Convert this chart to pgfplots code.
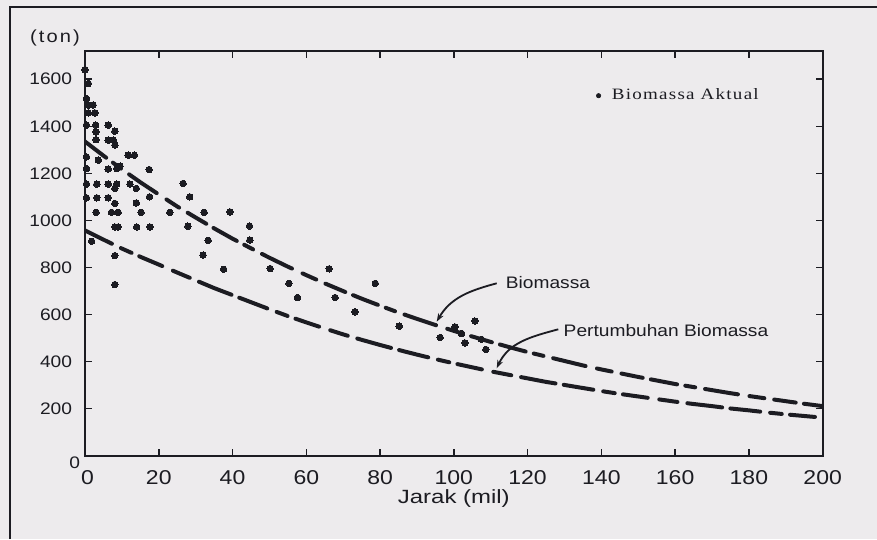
\documentclass[border=0pt]{standalone}
\usepackage{fontspec}
\setmainfont{Liberation Sans}[FakeStretch=1.15]
\newfontfamily\widefont{Liberation Sans}[FakeStretch=1.25]
\newfontfamily\timesfont{Liberation Serif}[FakeStretch=1.2,LetterSpace=8]
\usepackage{pgfplots}
\usepackage{pgfplotstable}
\pgfplotsset{compat=1.18}
\usetikzlibrary{arrows.meta}
\definecolor{bg}{RGB}{237,235,237}
\definecolor{ink}{RGB}{28,28,34}

\pgfplotstableread{
x y
0 1335
5 1275
10 1217
15 1162
20 1110
25 1059
30 1012
35 966
40 922
45 881
50 841
55 803
60 767
65 732
70 699
75 667
80 637
85 608
90 581
95 555
100 530
105 506
110 483
115 461
120 440
125 421
130 402
135 383
140 366
145 350
150 334
155 319
160 304
165 291
170 278
175 265
180 253
185 242
190 231
195 220
200 210
}\biomassa

\pgfplotstableread{
x y
0 957
5 918
10 880
15 845
20 812
25 778
30 745
35 712
40 682
45 652
50 622
55 593
60 566
65 540
70 515
75 492
80 470
85 449
90 429
95 410
100 392
105 375
110 358
115 343
120 328
125 313
130 300
135 287
140 274
145 262
150 251
155 240
160 229
165 219
170 210
175 200
180 192
185 183
190 175
195 168
200 161
}\pertumbuhan

\pgfplotstableread{
x y
0.0 1641
0.9 1582
0.4 1518
0.9 1490
2.2 1490
0.9 1457
2.7 1457
0.4 1405
2.9 1405
6.3 1405
8.1 1379
3.0 1376
3.0 1343
6.3 1341
7.7 1341
8.1 1320
0.4 1270
3.6 1256
11.7 1277
13.4 1277
0.4 1220
6.3 1218
8.6 1220
9.5 1230
17.4 1216
0.4 1154
3.2 1154
6.3 1154
8.6 1154
12.2 1154
8.1 1136
13.9 1136
17.5 1100
26.6 1157
28.4 1100
0.4 1096
3.2 1096
6.3 1096
8.1 1072
13.9 1074
3.0 1034
7.2 1034
9.0 1034
15.2 1034
23.0 1034
32.3 1034
39.3 1036
8.1 972
9.0 972
14.0 972
17.6 972
27.9 975
44.6 976
1.8 911
33.4 915
44.7 916
8.1 850
32.0 852
37.6 792
50.2 795
8.1 727
66.2 794
55.3 732
57.6 672
67.8 672
78.7 732
73.2 611
85.2 550
96.3 502
100.3 547
102.1 519
103.0 479
105.7 572
107.5 494
108.7 451
}\aktual

\begin{document}
\begin{tikzpicture}[x=0.6pt,y=0.6pt]
\useasboundingbox (0,0) rectangle (877,539);
\fill[bg] (0,0) rectangle (877,539);
\draw[ink, line width=1.2pt] (10,0) -- (10,532) -- (877,532);
\begin{axis}[
  at={(51pt,50.1pt)}, anchor=south west,
  scale only axis, width=442.6pt, height=242.7pt,
  xmin=0, xmax=200, ymin=0, ymax=1720,
  xtick={20,40,...,200}, ytick={200,400,...,1600},
  extra x ticks={0},
  extra x tick style={xticklabel style={xshift=1.5pt}},
  extra y ticks={0},
  extra y tick style={yticklabel style={xshift=4.8pt, yshift=-4.2pt}},
  tick align=inside, major tick length=4pt,
  every tick/.style={ink, line width=0.9pt},
  axis line style={ink, line width=1.2pt},
  /pgf/number format/assume math mode=true,
  /pgf/number format/1000 sep={},
  xticklabel style={font=\fontsize{12}{14}\selectfont, text=ink, inner sep=0pt, anchor=north, yshift=-8.9pt},
  yticklabel style={font=\fontsize{10}{12}\selectfont, text=ink, inner sep=0pt, anchor=east, xshift=-7.6pt},
  xlabel={Jarak (mil)},
  xlabel style={at={(axis description cs:0.5,0)}, anchor=north, inner sep=0pt, yshift=-20pt, font=\widefont\fontsize{11.5}{14}\selectfont, text=ink},
  ylabel={\addfontfeature{LetterSpace=12}(ton)},
  ylabel style={at={(axis description cs:-0.0407,1.0321)}, rotate=-90, anchor=center, inner sep=0pt, font=\fontsize{10.5}{12}\selectfont, text=ink},
  legend style={at={(0.6924,0.8895)}, anchor=west, draw=none, fill=none, inner sep=0pt,
    font=\timesfont\fontsize{9.5}{11}\selectfont, text=ink},
  legend cell align=left,
]
\addplot[ink, line width=2.4pt, line cap=round, forget plot,
  dash pattern=on 16pt off 5pt on 6pt off 6pt on 20pt off 7pt on 9pt off 6pt on 13pt off 5pt]
  table[x=x,y=y]{\biomassa};
\addplot[ink, line width=2.4pt, line cap=round, forget plot,
  dash pattern=on 18pt off 6pt on 7pt off 5pt on 15pt off 7pt on 11pt off 6pt on 21pt off 5pt]
  table[x=x,y=y]{\pertumbuhan};
\addplot[only marks, mark=*, mark size=1.95pt, mark options={draw=ink, fill=ink, line width=0pt},
  legend image code/.code={\fill[ink] (0pt,0pt) circle (1.3pt); \path[draw=none,fill=none] (-1.3pt,-1pt) rectangle (6pt,1pt);}]
  table[x=x,y=y]{\aktual};
\addlegendentry{Biomassa Aktual}
\end{axis}
\node[font=\fontsize{10}{12}\selectfont, text=ink, inner sep=0pt] at (548,256) {Biomassa};
\node[font=\fontsize{10}{12}\selectfont, text=ink, inner sep=0pt] at (666,208) {Pertumbuhan Biomassa};
\draw[ink, line width=1.1pt, -{Stealth[length=5pt,width=3.5pt]}] (496.7,255.7) to[out=195,in=60] (436.7,217.3);
\draw[ink, line width=1.1pt, -{Stealth[length=5pt,width=3.5pt]}] (558.3,209.7) to[out=195,in=65] (496.7,170.7);
\end{tikzpicture}
\end{document}
